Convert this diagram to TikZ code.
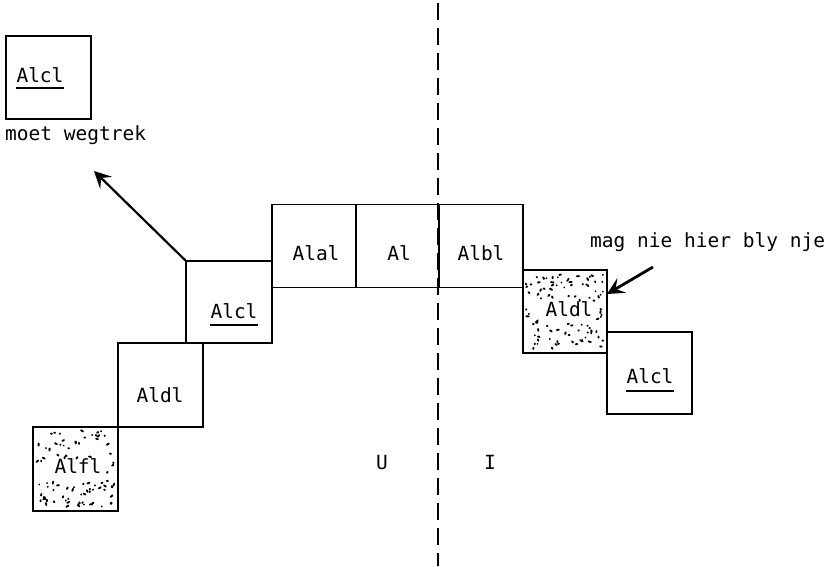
\documentclass[tikz,border=0pt]{standalone}
\usepackage{fontspec}
\newfontfamily\tw{DejaVu Sans Mono}
\usetikzlibrary{arrows.meta}
\begin{document}
\begin{tikzpicture}[x=1pt,y=-1pt,
  cell/.style={draw,line width=1.4pt,minimum width=84pt,minimum height=83pt,inner sep=0pt},
  lbl/.style={font=\tw\fontsize{19.5}{23}\selectfont,anchor=base,inner sep=0pt},
  txt/.style={font=\tw\fontsize{19.5}{23}\selectfont,anchor=base west,inner sep=0pt},
  ul/.style={line width=1.3pt},
  arr/.style={line width=2.2pt,-{Stealth[length=17pt,width=17pt,inset=7pt]}},
  divider/.style={line width=1.7pt,dash pattern=on 17pt off 8pt}]
\useasboundingbox (0,0) rectangle (832,566);
% stipple for shaded cells
\newcommand{\stip}[4]{% centre x, centre y, text dx, seed
  \pgfmathsetseed{#4}
  \foreach \i in {1,...,120}{
    \pgfmathsetmacro\dx{rand*39}
    \pgfmathsetmacro\dy{rand*38}
    \pgfmathtruncatemacro\ok{(abs(\dx-#3)>26) || (abs(\dy-1)>11)}
    \pgfmathsetmacro\ang{rand*180}
    \pgfmathsetmacro\len{rnd*2.4}
    \ifnum\ok=1
      \draw[line width=1.9pt,line cap=round] (#1+\dx,#2+\dy) -- ++(\ang:\len pt);
    \fi
  }}
\stip{75.5}{469}{2}{7}
\stip{565}{311.5}{3}{11}
% cells
\node[cell,minimum width=85pt] (tl) at (48.5,77.5) {};
\node[cell] (alal) at (314,246) {};
\node[cell,minimum width=83pt] (al) at (397.5,246) {};
\node[cell] (albl) at (481,246) {};
\node[cell,minimum width=86pt,minimum height=82pt] (alcm) at (229,302) {};
\node[cell,minimum width=85pt,minimum height=84pt] (aldl) at (160.5,385) {};
\node[cell,minimum width=85pt,minimum height=84pt] (alfl) at (75.5,469) {};
\node[cell] (aldr) at (565,311.5) {};
\node[cell,minimum width=85pt,minimum height=82pt] (alcr) at (649.5,373) {};
% labels
\node[lbl] (t1) at (40,82) {Alcl};
\draw[ul] ([yshift=-6pt]t1.base west) -- ([yshift=-6pt]t1.base east);
\node[lbl] (t2) at (316,260) {Alal};
\node[lbl] (t3) at (399,260) {Al};
\node[lbl] (t4) at (481,260) {Albl};
\node[lbl] (t5) at (234,318) {Alcl};
\draw[ul] ([yshift=-7pt]t5.base west) -- ([yshift=-7pt]t5.base east);
\node[lbl] (t6) at (160,402) {Aldl};
\node[lbl] (t7) at (78,473) {Alfl};
\node[lbl] (t8) at (569,316) {Aldl};
\node[lbl] (t9) at (650,383) {Alcl};
\draw[ul] ([yshift=-8pt]t9.base west) -- ([yshift=-8pt]t9.base east);
% texts
\node[txt] (mw) at (5,140) {moet wegtrek};
\node[txt] (mn) at (590,247) {mag nie hier bly nje};
\node[lbl] (u) at (382,469) {U};
\node[lbl] (i) at (490,469) {I};
% divider
\coordinate (dtop) at (438,3);
\coordinate (dbot) at (438,566);
\draw[divider] (dtop) -- (dbot);
% arrows
\coordinate (a1) at (94,171);
\draw[arr] (alcm.north west) -- (a1);
\coordinate (a2t) at (653,267);
\coordinate (a2h) at (607,294);
\draw[arr,line width=2.8pt] (a2t) -- (a2h);
\end{tikzpicture}
\end{document}
